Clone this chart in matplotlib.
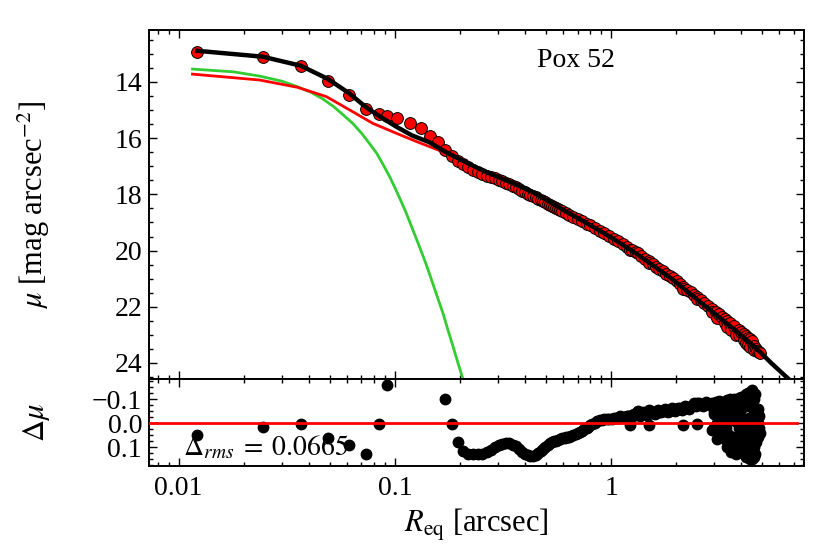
import matplotlib
matplotlib.use("Agg")
import matplotlib.pyplot as plt
from matplotlib import ticker

plt.rcParams['font.family'] = 'serif'
plt.rcParams['font.serif'] = ['Liberation Serif', 'DejaVu Serif']
plt.rcParams['mathtext.fontset'] = 'stix'

# observed profile (R_eq in arcsec, mu in mag/arcsec^2)
r_obs = [0.0122, 0.0245, 0.0367, 0.0490, 0.0612, 0.0734, 0.0846, 0.0925, 0.1020, 0.1173,
         0.1318, 0.1453, 0.1585, 0.1706, 0.1838, 0.1960, 0.2066, 0.2178, 0.2296, 0.2421,
         0.254, 0.266, 0.278, 0.290, 0.302, 0.314, 0.327, 0.339, 0.351, 0.363, 0.375, 0.388,
         0.400, 0.412, 0.424, 0.436, 0.449, 0.461, 0.473, 0.485, 0.497, 0.510, 0.522, 0.534,
         0.546, 0.558, 0.571, 0.583, 0.595,
         0.62, 0.64, 0.67, 0.70, 0.73, 0.77, 0.80, 0.84, 0.89, 0.93, 0.98, 1.03, 1.08, 1.13,
         1.18, 1.22, 1.25, 1.30, 1.33, 1.38, 1.44,
         1.50, 1.50, 1.56, 1.62, 1.67, 1.74, 1.80, 1.87, 1.94, 2.01, 2.09, 2.16, 2.16,
         2.25, 2.34, 2.42, 2.50, 2.50, 2.60, 2.70, 2.80, 2.92, 2.92,
         3.05, 3.10, 3.15, 3.25, 3.35, 3.35, 3.45, 3.45, 3.55, 3.60, 3.70, 3.80, 3.90, 3.90,
         4.00, 4.10, 4.10, 4.20, 4.20, 4.30, 4.30, 4.40, 4.40, 4.50, 4.60, 4.60, 4.70, 4.75,
         4.85, 4.90]
mu_obs = [12.92, 13.11, 13.43, 13.95, 14.47, 14.96, 15.15, 15.22, 15.29, 15.45,
          15.63, 15.91, 16.12, 16.41, 16.62, 16.80, 16.93, 17.04, 17.13, 17.22,
          17.27, 17.33, 17.38, 17.43, 17.48, 17.53, 17.58, 17.63, 17.69, 17.74, 17.80, 17.87,
          17.92, 17.97, 18.02, 18.07, 18.11, 18.16, 18.20, 18.24, 18.28, 18.33, 18.36, 18.41,
          18.45, 18.48, 18.52, 18.56, 18.59,
          18.67, 18.73, 18.81, 18.88, 18.95, 19.04, 19.10, 19.19, 19.29, 19.37, 19.47, 19.57,
          19.67, 19.77, 19.86, 19.97, 19.98, 20.06, 20.09, 20.19, 20.29,
          20.38, 20.44, 20.48, 20.57, 20.64, 20.74, 20.82, 20.91, 20.99, 21.08, 21.19, 21.28,
          21.35,
          21.39, 21.49, 21.57, 21.66, 21.74, 21.77, 21.87, 21.97, 22.08, 22.19,
          22.19, 22.39, 22.27, 22.36, 22.44, 22.57, 22.52, 22.71, 22.58, 22.84, 22.69, 22.99,
          22.84, 23.00,
          22.91, 22.98, 23.17, 23.04, 23.28, 23.10, 23.36, 23.16, 23.43, 23.22, 23.38, 23.53,
          23.49, 23.57, 23.61, 23.66]

# total model
r_mod = [0.0122, 0.0245, 0.0367, 0.049, 0.0612, 0.0734, 0.085, 0.102, 0.12, 0.145, 0.17,
         0.206, 0.247, 0.30, 0.367, 0.45, 0.527, 0.65, 0.807, 1.01, 1.34, 1.92, 2.75, 3.79,
         4.69, 5.5, 6.75]
mu_mod = [12.89, 13.10, 13.42, 13.89, 14.39, 14.89, 15.22, 15.60, 15.90, 16.15, 16.47,
          16.80, 17.10, 17.38, 17.66, 17.98, 18.30, 18.70, 19.11, 19.55, 20.16, 21.02, 22.00,
          22.86, 23.48, 24.00, 24.63]

# sersic component (red)
r_sers = [0.0116, 0.0237, 0.0355, 0.0482, 0.062, 0.079, 0.102, 0.126, 0.166, 0.206, 0.247,
          0.30, 0.367, 0.45, 0.527, 0.65, 0.807, 1.01, 1.34, 1.92, 2.75, 3.79, 4.69, 5.5, 6.75]
mu_sers = [13.72, 13.93, 14.19, 14.52, 15.00, 15.47, 15.83, 16.12, 16.48, 16.81, 17.11,
           17.39, 17.67, 17.99, 18.31, 18.71, 19.12, 19.56, 20.17, 21.03, 22.01, 22.87,
           23.49, 24.01, 24.64]

# nuclear component (green)
r_nuc = [0.0116, 0.018, 0.0237, 0.030, 0.0355, 0.041, 0.0464, 0.052, 0.0575, 0.064,
         0.0703, 0.076, 0.0825, 0.088, 0.0948, 0.1015, 0.108, 0.113, 0.121, 0.130,
         0.139, 0.148, 0.157, 0.167, 0.176, 0.186, 0.195, 0.205, 0.215]
mu_nuc = [13.54, 13.64, 13.79, 13.97, 14.17, 14.37, 14.60, 14.87, 15.16, 15.48,
          15.83, 16.17, 16.54, 16.92, 17.38, 17.86, 18.32, 18.67, 19.25, 19.86,
          20.45, 21.05, 21.63, 22.23, 22.82, 23.42, 23.95, 24.49, 25.05]

# residuals
r_res = [0.0122, 0.0245, 0.0367, 0.0490, 0.0612, 0.0734, 0.0846, 0.0925, 0.1706, 0.1838,
         0.1960,
         0.2066, 0.2178, 0.2296, 0.2421, 0.254, 0.266, 0.278, 0.290, 0.302, 0.314, 0.327,
         0.339, 0.351, 0.363, 0.375, 0.388, 0.400, 0.412, 0.424, 0.436, 0.449, 0.461, 0.473,
         0.485, 0.497, 0.510, 0.522, 0.534, 0.546, 0.558, 0.571, 0.583, 0.595,
         0.62, 0.64, 0.67, 0.70, 0.73, 0.77, 0.80, 0.84, 0.89, 0.93, 0.98, 1.03, 1.08, 1.13,
         1.18, 1.22, 1.25, 1.30, 1.33, 1.38, 1.44,
         1.50, 1.50, 1.56, 1.62, 1.67, 1.74, 1.80, 1.87, 1.94, 2.01, 2.09, 2.16, 2.16,
         2.25, 2.34, 2.42, 2.50, 2.50, 2.60, 2.70, 2.80, 2.92, 2.92,
         3.05, 3.10, 3.15, 3.25, 3.35, 3.35, 3.45, 3.45, 3.55, 3.60, 3.70, 3.80, 3.90, 3.90,
         4.00, 4.10, 4.10, 4.20, 4.20, 4.30, 4.30, 4.40, 4.40, 4.50, 4.60, 4.60, 4.70, 4.75,
         4.85, 4.90]
d_res = [0.049, 0.017, 0.003, 0.063, 0.090, 0.128, 0.004, -0.157, -0.100, 0.004,
         0.077,
         0.118, 0.128, 0.131, 0.130, 0.128, 0.122, 0.112, 0.100, 0.092, 0.086, 0.083,
         0.085, 0.090, 0.097, 0.108, 0.120, 0.128, 0.133, 0.137, 0.139, 0.134, 0.126, 0.118,
         0.110, 0.101, 0.092, 0.083, 0.080, 0.076, 0.073, 0.070, 0.067, 0.064,
         0.060, 0.056, 0.048, 0.040, 0.032, 0.021, 0.010, 0.000, -0.014, -0.016, -0.018,
         -0.020, -0.022, -0.025, -0.028, 0.008, -0.035, -0.040, -0.052, -0.038, -0.040,
         -0.055, 0.010, -0.044, -0.046, -0.048, -0.050, -0.052, -0.054, -0.056, -0.058,
         -0.062, -0.060, 0.008,
         -0.065, -0.070, -0.085, -0.083, 0.004, -0.075, -0.078, -0.080, -0.085, 0.030,
         -0.090, 0.065, -0.092, -0.088, -0.090, 0.040, -0.095, 0.100, -0.100, 0.120, -0.100,
         0.120, -0.105, 0.060,
         -0.110, -0.110, 0.080, -0.120, 0.120, -0.125, 0.140, -0.130, 0.140, -0.140, -0.050,
         0.100, 0.000, 0.050, 0.020, 0.040]
# extra residual points filling the band between 0.6 and 3 arcsec
r_res2 = [0.61, 0.63, 0.655, 0.685, 0.715, 0.75, 0.785, 0.82, 0.865, 0.91,
          0.955, 1.005, 1.055, 1.105, 1.155, 1.2, 1.235, 1.275, 1.315, 1.355,
          1.41, 1.47, 1.53, 1.59, 1.645, 1.705, 1.77, 1.835, 1.905, 1.975,
          2.05, 2.125, 2.2, 2.3, 2.38, 2.46, 2.55, 2.65, 2.75, 2.86, 2.98]
d_res2 = [0.062, 0.058, 0.052, 0.044, 0.036, 0.026, 0.016, 0.005, -0.008, -0.015,
          -0.017, -0.019, -0.021, -0.030, -0.026, -0.030, -0.020, -0.038, -0.045, -0.030,
          -0.045, -0.035, -0.050, -0.040, -0.055, -0.045, -0.058, -0.048, -0.062, -0.052,
          -0.065, -0.055, -0.070, -0.060, -0.075, -0.070, -0.085, -0.070, -0.088, -0.075,
          -0.050]
# points filling the scattered blob at large radii
r_blob = [3.0, 3.1, 3.2, 3.3, 3.4, 3.5, 3.6, 3.7, 3.8, 3.9, 4.0, 4.1, 4.2, 4.3, 4.4, 4.5,
          4.6, 4.7, 4.8, 3.2, 3.4, 3.6, 3.8, 4.0, 4.2, 4.4, 4.6, 4.8, 3.7, 4.0, 4.3, 4.5,
          4.8, 4.5, 4.65,
          3.0, 3.1, 3.2, 3.3, 3.4, 3.5, 3.6, 3.7, 3.8, 3.9, 4.0, 4.1, 4.2, 4.3, 4.4, 4.5,
          4.6, 4.7, 4.8,
          3.05, 3.25, 3.45, 3.65, 3.85, 4.05, 4.25, 4.45, 4.65, 4.85,
          3.55, 3.75, 3.95, 4.15, 4.35, 4.55, 4.75]
d_blob = [-0.04, 0.00, -0.03, 0.00, 0.02, 0.05, 0.06, 0.08, 0.06, 0.02, 0.03, 0.04, 0.06,
          0.08, 0.08, 0.10, 0.05, 0.02, 0.00, -0.06, -0.05, -0.04, -0.06, -0.06, -0.07,
          -0.08, -0.10, -0.06, 0.10, 0.09, 0.11, 0.14, -0.04, -0.08, 0.13,
          0.02, 0.03, 0.05, 0.03, 0.07, 0.08, 0.09, 0.12, 0.13, 0.10, 0.12, 0.13, 0.14,
          0.12, 0.15, 0.15, 0.14, 0.08, 0.06,
          -0.06, -0.07, -0.07, -0.08, -0.09, -0.08, -0.10, -0.11, -0.12, -0.03,
          -0.02, -0.01, -0.03, 0.00, -0.02, 0.02, -0.06]

galaxy = 'Pox 52'
rms_text = r'$\Delta_{rms}\;=\;0.0665$'

fig = plt.figure(figsize=(8.3, 5.57), dpi=100)
W, H = 830.0, 557.0
ax1 = fig.add_axes([149 / W, 1 - 379 / H, 655 / W, 349 / H])
ax2 = fig.add_axes([149 / W, 1 - 466 / H, 655 / W, 87 / H])

ax1.plot(r_nuc, mu_nuc, color='#33cc33', lw=2.0, zorder=2)
ax1.plot(r_sers, mu_sers, color='#ff0000', lw=2.0, zorder=2)
ax1.plot(r_obs, mu_obs, 'o', ms=8.5, mfc='#ff0000', mec='black', mew=0.7, zorder=3)
ax1.plot(r_mod, mu_mod, color='black', lw=3.2, zorder=4)
ax1.text(0.652, 0.894, galaxy, transform=ax1.transAxes, ha='center', va='baseline',
         fontsize=20)

for rr, dd in ((r_res, d_res), (r_res2, d_res2), (r_blob, d_blob)):
    ax2.plot(rr, dd, 'o', ms=7.5, color='black', mec='black', zorder=3)
ax2.plot([0.0073, 7.25], [0, 0], color='#ff0000', lw=2.0, zorder=4)
ax2.text(0.052, 0.126, rms_text, transform=ax2.transAxes, ha='left', va='baseline',
         fontsize=20, zorder=5)

for ax in (ax1, ax2):
    ax.set_xscale('log')
    ax.set_xlim(0.0073, 7.8)
    ax.tick_params(which='both', direction='in', top=True, right=True, width=1.0,
                   labelsize=20)
    ax.tick_params(which='major', length=6)
    ax.tick_params(which='minor', length=3)
    ax.tick_params(axis='y', pad=5)
    for s in ax.spines.values():
        s.set_linewidth(1.4)

ax1.set_ylim(24.57, 12.15)
ax1.yaxis.set_major_locator(ticker.MultipleLocator(2))
ax1.yaxis.set_minor_locator(ticker.MultipleLocator(0.5))
ax1.tick_params(axis='x', which='both', labelbottom=False)


def res_fmt(v, pos):
    if abs(v) < 1e-9:
        v = 0.0
    return ('%.1f' % v).replace('-', '\u2212')


ax2.set_ylim(0.179, -0.184)
ax2.yaxis.set_major_locator(ticker.MultipleLocator(0.1))
ax2.yaxis.set_minor_locator(ticker.MultipleLocator(0.025))
ax2.yaxis.set_major_formatter(ticker.FuncFormatter(res_fmt))
ax2.xaxis.set_major_formatter(ticker.FuncFormatter(lambda v, p: '%g' % v))
ax2.xaxis.set_minor_formatter(ticker.NullFormatter())
ax2.tick_params(axis='x', pad=7)

ax1.set_ylabel(r'$\mu$ [mag arcsec$^{-2}$]', fontsize=22)
ax2.set_ylabel(r'$\Delta\mu$', fontsize=22)
ax1.yaxis.set_label_coords(-0.148, 0.5)
ax2.yaxis.set_label_coords(-0.148, 0.5)
ax2.set_xlabel(r'$R_{\rm eq}$ [arcsec]', fontsize=22, labelpad=4)

fig.savefig('out.png', dpi=100)
